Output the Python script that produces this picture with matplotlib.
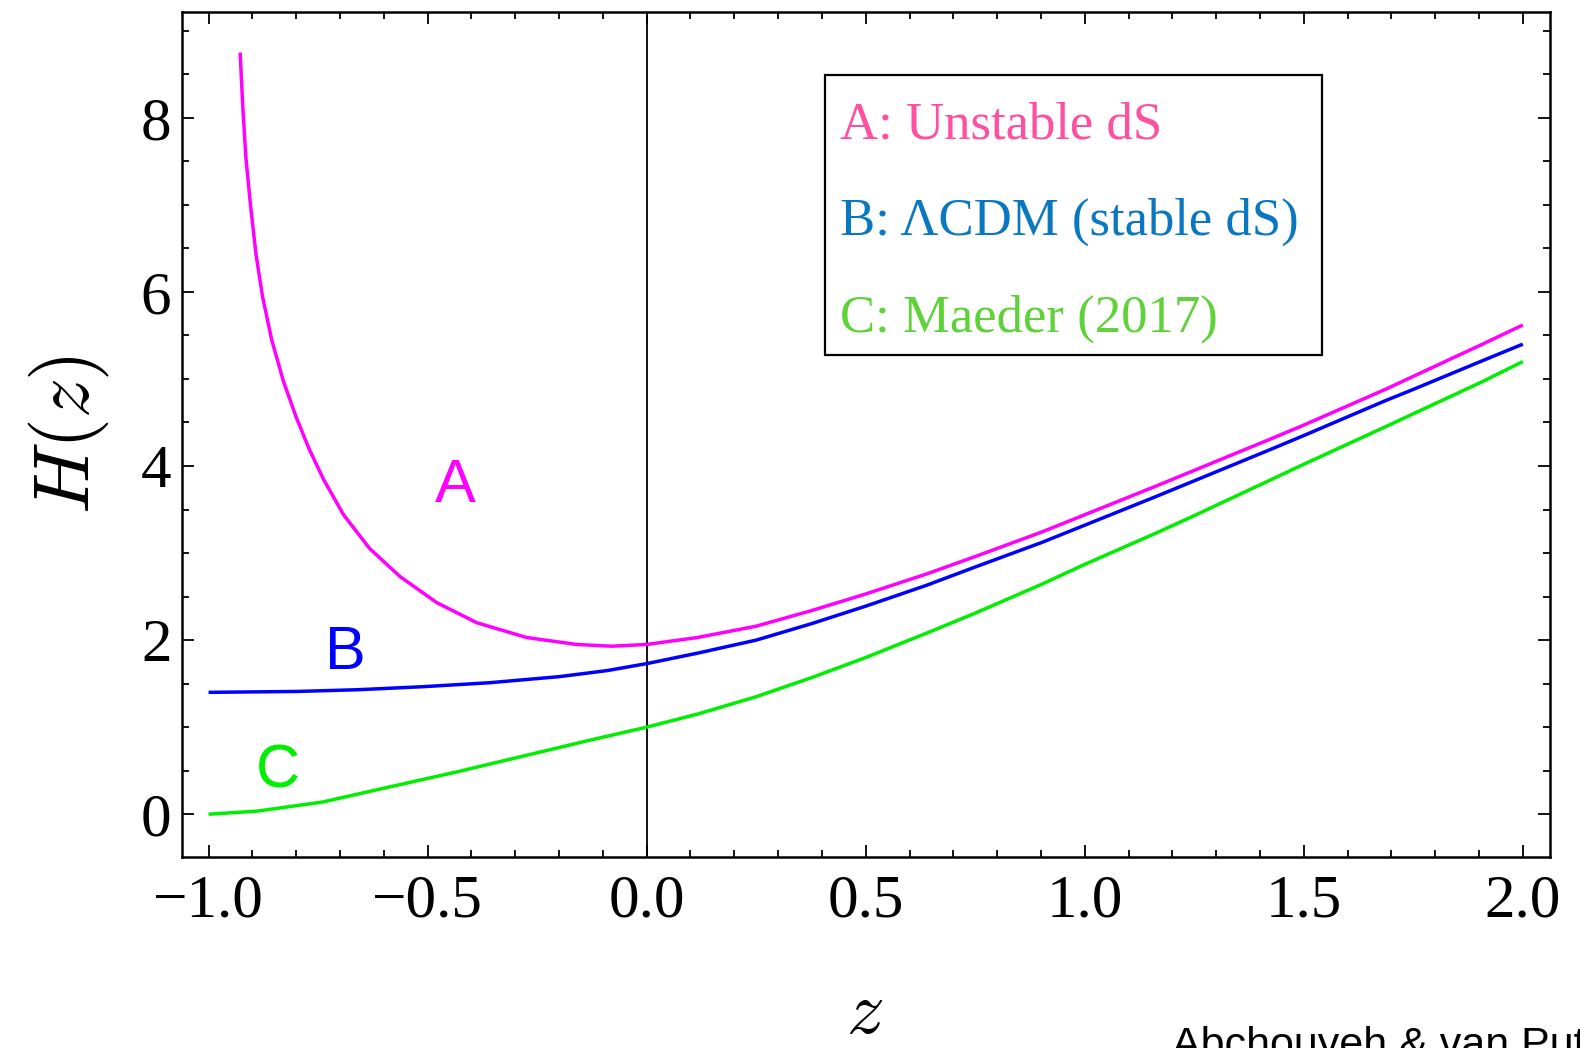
import matplotlib
matplotlib.use("Agg")
import matplotlib.pyplot as plt
from matplotlib.patches import Rectangle
from matplotlib.ticker import MultipleLocator, FuncFormatter

plt.rcParams["mathtext.fontset"] = "cm"
plt.rcParams["font.family"] = ["Liberation Serif", "DejaVu Serif"]

# Hubble rate H(z) for the three scenarios
z_a = [-0.928, -0.922, -0.915, -0.904, -0.892, -0.877, -0.856, -0.829, -0.800,
       -0.770, -0.738, -0.692, -0.632, -0.563, -0.479, -0.388, -0.274, -0.160,
       -0.080, 0.0, 0.116, 0.25, 0.377, 0.5, 0.639, 0.75, 0.901, 1.0, 1.163,
       1.25, 1.424, 1.5, 1.686, 1.75, 1.908, 2.0]
h_a = [8.75, 8.13, 7.55, 6.98, 6.44, 5.95, 5.45, 4.97, 4.56,
       4.19, 3.85, 3.44, 3.05, 2.73, 2.43, 2.20, 2.03, 1.95,
       1.93, 1.95, 2.03, 2.16, 2.34, 2.53, 2.76, 2.96, 3.24, 3.44, 3.77,
       3.95, 4.31, 4.47, 4.88, 5.03, 5.40, 5.62]

z_b = [-1.0, -0.8, -0.66, -0.51, -0.36, -0.2, -0.09, 0.0, 0.116, 0.25, 0.377,
       0.5, 0.639, 0.75, 0.901, 1.0, 1.163, 1.25, 1.424, 1.5, 1.686, 1.75,
       1.908, 2.0]
h_b = [1.40, 1.41, 1.43, 1.465, 1.51, 1.58, 1.65, 1.73, 1.85, 2.00, 2.19,
       2.39, 2.63, 2.84, 3.12, 3.32, 3.65, 3.83, 4.19, 4.35, 4.75, 4.88,
       5.21, 5.40]

z_c = [-1.0, -0.89, -0.74, -0.59, -0.43, -0.28, -0.13, 0.0, 0.116, 0.25, 0.377,
       0.5, 0.639, 0.75, 0.901, 1.0, 1.163, 1.25, 1.424, 1.5, 1.686, 1.75,
       1.908, 2.0]
h_c = [0.0, 0.035, 0.14, 0.31, 0.49, 0.67, 0.85, 1.0, 1.15, 1.35, 1.57,
       1.80, 2.08, 2.31, 2.64, 2.87, 3.23, 3.43, 3.84, 4.02, 4.45, 4.60,
       4.97, 5.20]

curve_colors = ["#ff00ff", "#0000ff", "#00ee00"]
curve_tags = ["A", "B", "C"]
tag_positions = [(-0.436, 3.77), (-0.687, 1.85), (-0.841, 0.49)]

legend_labels = ["A: Unstable dS", "B: \u039bCDM (stable dS)", "C: Maeder (2017)"]
legend_colors = ["#ff4fa0", "#0a78c0", "#5fd23a"]


def minus_fmt(fmt):
    return FuncFormatter(lambda v, pos: (fmt % v).replace("-", "\u2212"))


fig = plt.figure(figsize=(15.8, 10.48), dpi=100)
ax = fig.add_axes([0.1155, 0.1818, 0.8655, 0.8067])

ax.axvline(0.0, color="black", lw=1.3, zorder=1)
for zz, hh, col in zip([z_a, z_b, z_c], [h_a, h_b, h_c], curve_colors):
    ax.plot(zz, hh, color=col, lw=2.5, solid_capstyle="butt",
            solid_joinstyle="round", zorder=3)

for tag, (tx, ty), col in zip(curve_tags, tag_positions, curve_colors):
    ax.text(tx, ty, tag, color=col, fontsize=44, family="Liberation Sans",
            ha="center", va="center")

ax.set_xlim(-1.0596, 2.062)
ax.set_ylim(-0.497, 9.215)
ax.xaxis.set_major_locator(MultipleLocator(0.5))
ax.xaxis.set_minor_locator(MultipleLocator(0.1))
ax.yaxis.set_major_locator(MultipleLocator(2))
ax.yaxis.set_minor_locator(MultipleLocator(0.5))
ax.xaxis.set_major_formatter(minus_fmt("%.1f"))
ax.yaxis.set_major_formatter(minus_fmt("%d"))
ax.tick_params(which="both", direction="in", top=True, right=True, width=1.3,
               color="black")
ax.tick_params(which="major", length=8.6)
ax.tick_params(which="minor", length=5)
ax.tick_params(axis="x", which="major", labelsize=44, pad=12)
ax.tick_params(axis="y", which="major", labelsize=44, pad=8)
for sp in ax.spines.values():
    sp.set_linewidth(1.8)

# framed key in the upper right
ax.add_patch(Rectangle((0.470, 0.5948), 0.3634, 0.3312, transform=ax.transAxes,
                       fill=False, edgecolor="black", lw=1.6, zorder=5))
for lab, col, yb in zip(legend_labels, legend_colors, [0.850, 0.7366, 0.6222]):
    ax.text(0.4805, yb, lab, color=col, fontsize=38, transform=ax.transAxes,
            ha="left", va="baseline", zorder=6)

fig.text(0.0434, 0.585, r"$H(z)$", fontsize=57, rotation=90,
         ha="center", va="center")
fig.text(0.547, 0.031, r"$z$", fontsize=54, ha="center", va="center")

fig.text(0.7418, -0.009, "Abchouyeh & van Putten", fontsize=31,
         family="Liberation Sans", ha="left", va="baseline")

fig.savefig("out.png", dpi=100, facecolor="white")
